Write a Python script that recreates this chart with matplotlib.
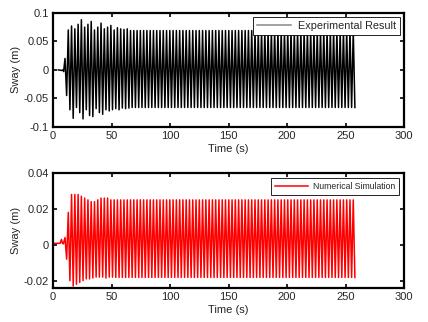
import numpy as np
import matplotlib
matplotlib.use('Agg')
import matplotlib.pyplot as plt

plt.rcParams['font.family'] = ['Liberation Sans', 'DejaVu Sans']
plt.rcParams['font.size'] = 8
plt.rcParams['text.color'] = '#262626'
plt.rcParams['axes.labelcolor'] = '#262626'
plt.rcParams['xtick.labelcolor'] = '#262626'
plt.rcParams['ytick.labelcolor'] = '#262626'

# oscillation timing
t_start = 9.5        # s, onset of motion
period = 2.8         # s, one sway cycle
t_end = 258.0        # s, end of record
n_cycles = int((t_end - t_start) / period) + 1

# experimental: peak values per cycle (transient, then steady)
exp_upper = [0.02, 0.07, 0.077, 0.072, 0.08, 0.088, 0.075, 0.08, 0.085, 0.07,
             0.075, 0.082, 0.072, 0.075, 0.078, 0.07, 0.074, 0.072, 0.071, 0.072]
exp_lower = [-0.045, -0.07, -0.085, -0.066, -0.075, -0.086, -0.07, -0.08, -0.082, -0.068,
             -0.075, -0.078, -0.07, -0.072, -0.07, -0.068, -0.07, -0.067, -0.068, -0.067]
exp_steady = (0.069, -0.066)

# numerical: peak values per cycle
num_upper = [0.004, 0.018, 0.028, 0.028, 0.028, 0.027, 0.026, 0.025, 0.024, 0.024,
             0.025, 0.026, 0.026, 0.026, 0.025]
num_lower = [-0.008, -0.02, -0.023, -0.022, -0.021, -0.020, -0.019, -0.019, -0.0185, -0.018,
             -0.018, -0.018, -0.0185, -0.018, -0.018]
num_steady = (0.025, -0.0182)

# quiet part before onset
exp_pre_t = [4.5, 7.0, 8.5, 9.0]
exp_pre_y = [0.0, -0.001, 0.0, -0.003]
num_pre_t = [0.0, 6.0, 7.2, 8.0, 8.8]
num_pre_y = [0.0008, 0.0008, 0.003, 0.0008, 0.0005]


def build(pre_t, pre_y, upper, lower, steady):
    up = upper + [steady[0]] * (n_cycles - len(upper))
    lo = lower + [steady[1]] * (n_cycles - len(lower))
    t = list(pre_t)
    y = list(pre_y)
    for k in range(n_cycles):
        t.append(t_start + k * period + period * 0.25)
        y.append(up[k])
        t.append(t_start + k * period + period * 0.75)
        y.append(lo[k])
    return np.array(t), np.array(y)


t1, y1 = build(exp_pre_t, exp_pre_y, exp_upper, exp_lower, exp_steady)
t2, y2 = build(num_pre_t, num_pre_y, num_upper, num_lower, num_steady)

fig = plt.figure(figsize=(4.28, 3.22), dpi=100)
ax1 = fig.add_axes([0.124, 0.606, 0.82, 0.354])
ax2 = fig.add_axes([0.124, 0.106, 0.82, 0.357])

ax1.plot(t1, y1, color='black', lw=1.1, label='Experimental Result')
ax2.plot(t2, y2, color='red', lw=1.1, label='Numerical Simulation')

ax1.set_xlim(0, 300)
ax1.set_ylim(-0.1, 0.1)
ax1.set_yticks([-0.1, -0.05, 0, 0.05, 0.1])
ax1.set_yticklabels(['-0.1', '-0.05', '0', '0.05', '0.1'])
ax2.set_xlim(0, 300)
ax2.set_ylim(-0.024, 0.04)
ax2.set_yticks([-0.02, 0, 0.02, 0.04])
ax2.set_yticklabels(['-0.02', '0', '0.02', '0.04'])

for ax in (ax1, ax2):
    ax.set_xticks([0, 50, 100, 150, 200, 250, 300])
    ax.set_xlabel('Time (s)', labelpad=2)
    ax.set_ylabel('Sway (m)', labelpad=2)
    ax.tick_params(direction='in', top=True, right=True, length=3, width=1.2, pad=3)
    for s in ax.spines.values():
        s.set_linewidth(1.6)

leg1 = ax1.legend(loc='upper right', fancybox=False, edgecolor='black', framealpha=1,
                  fontsize=7.8, borderpad=0.35, handlelength=3.2, handletextpad=0.6,
                  borderaxespad=0.4)
leg1.get_frame().set_linewidth(0.6)
leg1.get_lines()[0].set_color('#888888')
leg2 = ax2.legend(loc='upper right', fancybox=False, edgecolor='black', framealpha=1,
                  fontsize=6.2, borderpad=0.45, handlelength=3.8, handletextpad=0.6,
                  borderaxespad=0.6)
leg2.get_frame().set_linewidth(0.6)

fig.savefig('out.png', dpi=100)
